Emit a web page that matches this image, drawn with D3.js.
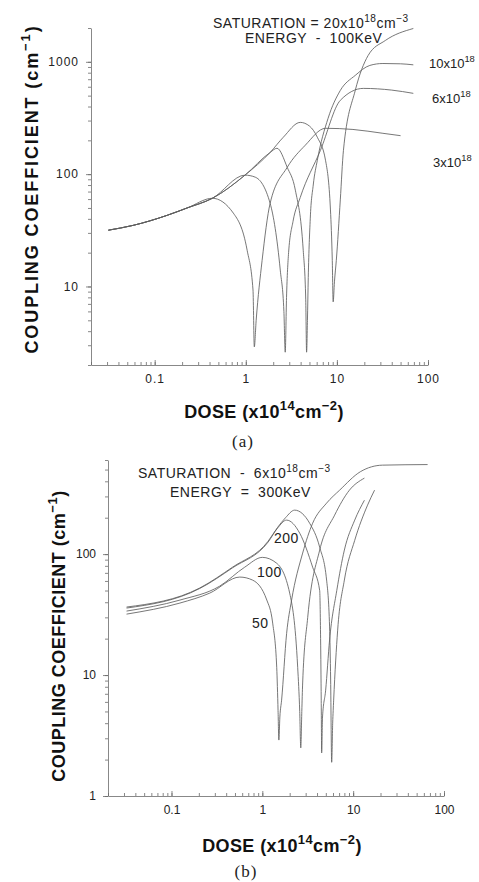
<!DOCTYPE html>
<meta charset="utf-8">
<head>
  <style>
    body { margin: 0; background: #fff; }
    svg { display: block; font-family: "Liberation Sans", Arial, Helvetica, sans-serif; }
    text { white-space: pre; }
    .curve { fill: none; stroke: #5e5e5e; stroke-width: 0.85px; }
    .axis path, .axis line { stroke: #6a6a6a; stroke-width: 0.8px; }
    .axis text { font-size: 12px; fill: #222; font-family: "Liberation Sans", Arial, sans-serif; }
    .axis-a text { letter-spacing: 1px; }
    .title { font-weight: bold; font-size: 18px; fill: #111; }
    .note { font-size: 14px; fill: #222; letter-spacing: 0.5px; }
    .side { font-size: 13px; fill: #222; }
    .cap { font-family: "Liberation Serif", "Times New Roman", serif; font-size: 17px; fill: #222; letter-spacing: 1px; }
  </style>
  <script src="https://cdn.jsdelivr.net/npm/d3@7"></script>
</head>
<body>
<script>
  // tick labels
  var xMajor = [0.1, 1, 10, 100]
    , xMajorLabels = ["0.1", "1", "10", "100"]
    , yMajorA = [10, 100, 1000]
    , yMajorB = [1, 10, 100];

  // (a) 100 keV, curves by saturation (x10^18 cm^-3)
  var doseA3  = [0.031, 0.058, 0.137, 0.227, 0.43, 0.73, 1.035, 1.2, 1.24, 1.3, 1.51, 1.85, 2.85, 4.5, 7.5, 15, 32, 50]
    , kA3     = [31.7, 35, 43, 50, 61, 45, 21, 9.3, 2.9, 5, 17, 55, 115, 181, 256, 250, 231, 220];
  var doseA6  = [0.031, 0.058, 0.137, 0.227, 0.43, 0.98, 1.27, 1.85, 2.39, 2.62, 2.71, 2.8, 2.95, 3.3, 3.96, 6.6, 10.9, 19.5, 40, 69]
    , kA6     = [31.7, 35, 43, 50, 61, 98, 94, 55, 14, 6, 2.6, 8, 20, 38, 62, 163, 454, 580, 560, 524];
  var doseA10 = [0.031, 0.058, 0.137, 0.227, 0.43, 0.98, 1.85, 2.2, 2.85, 3.5, 4.27, 4.55, 4.65, 4.75, 4.85, 5.1, 5.5, 6.1, 8.0, 10.9, 15.9, 23, 32, 50, 69]
    , kA10    = [31.7, 35, 43, 50, 61, 98, 156, 170, 115, 72, 21, 7.6, 2.6, 5, 12, 40, 80, 133, 314, 556, 757, 929, 966, 960, 940];
  var doseA20 = [0.031, 0.058, 0.137, 0.227, 0.43, 0.98, 1.85, 2.58, 3.96, 5.0, 6.1, 7.5, 8.5, 8.9, 9.1, 9.4, 9.85, 10.9, 11.8, 15.9, 22, 34, 69]
    , kA20    = [31.7, 35, 43, 50, 61, 98, 156, 213, 289, 268, 213, 133, 48, 17, 7.3, 11, 17, 59, 163, 556, 1137, 1548, 1980];

  // (b) 300 keV, saturation 6x10^18
  var doseB50  = [0.032, 0.124, 0.264, 0.565, 0.78, 1.12, 1.3, 1.44, 1.49, 1.52, 1.56, 1.63, 1.85, 2.1, 2.78, 3.58, 5.1, 7.1, 12, 21, 66]
    , kB50     = [31.9, 39.4, 47.6, 64.6, 61, 41.7, 26.9, 11.6, 5.1, 2.9, 4.5, 6.2, 22, 41.7, 102, 180, 264, 338, 480, 544, 550];
  var doseB100 = [0.032, 0.124, 0.34, 0.64, 1.0, 1.44, 2.0, 2.45, 2.58, 2.65, 2.72, 2.78, 3.16, 4.28, 6.25, 9.1, 13.3]
    , kB100    = [33.8, 41.7, 54.4, 78, 94, 84, 47.6, 11.6, 5, 2.5, 5, 8.6, 30, 108, 210, 338, 425];
  var doseB200 = [0.032, 0.205, 0.47, 1.16, 1.47, 1.85, 2.58, 3.58, 4.28, 4.38, 4.45, 4.5, 4.6, 4.98, 5.5, 6.6, 8.0, 10.4, 13.3]
    , kB200    = [35.8, 52, 77, 126, 164, 191, 149, 78, 50, 20, 6.2, 2.27, 4.5, 7.5, 19.5, 50, 108, 191, 279];
  var doseBtop = [0.032, 0.205, 0.47, 1.16, 1.47, 1.8, 2.27, 3.32, 4.28, 5.1, 5.5, 5.65, 5.8, 5.95, 6.1, 6.75, 8.0, 10.4, 14.4, 17.2]
    , kBtop    = [36.5, 52.5, 78, 128, 166, 200, 231, 180, 114, 61, 25, 9.1, 1.9, 4, 6.2, 23.5, 61, 130, 254, 338];

  var width = 479, height = 882;
  var svg = d3.select("body").append("svg").attr("width", width).attr("height", height);

  var xa = d3.scaleLog().domain([0.02, 100]).range([91, 428])
    , ya = d3.scaleLog().domain([2, 2000]).range([365, 28])
    , xb = d3.scaleLog().domain([0.02, 100]).range([108, 444])
    , yb = d3.scaleLog().domain([1, 600]).range([796, 460]);

  drawAxes(svg.append("g").attr("class", "axis-a"), xa, ya, yMajorA);
  drawAxes(svg.append("g").attr("class", "axis-b"), xb, yb, yMajorB);

  drawCurves(xa, ya, [[doseA3, kA3], [doseA6, kA6], [doseA10, kA10], [doseA20, kA20]]);
  drawCurves(xb, yb, [[doseB50, kB50], [doseB100, kB100], [doseB200, kB200], [doseBtop, kBtop]]);

  // titles
  yTitle(189, 38, 1.9);
  yTitle(636, 65, 0.5);
  xTitle(264, 418);
  xTitle(282, 852);

  rich(svg.append("text").attr("class", "note").attr("x", 213).attr("y", 28),
       [["SATURATION = 20x10", 0], ["18", 1], ["cm", 0], ["\u22123", 1]], 14);
  rich(svg.append("text").attr("class", "note").attr("x", 245).attr("y", 43),
       [["ENERGY  -  100KeV", 0]], 14);
  rich(svg.append("text").attr("class", "side").attr("x", 429).attr("y", 68), [["10x10", 0], ["18", 1]], 13);
  rich(svg.append("text").attr("class", "side").attr("x", 432).attr("y", 103), [["6x10", 0], ["18", 1]], 13);
  rich(svg.append("text").attr("class", "side").attr("x", 433).attr("y", 167), [["3x10", 0], ["18", 1]], 13);

  rich(svg.append("text").attr("class", "note").attr("x", 138).attr("y", 478),
       [["SATURATION  -  6x10", 0], ["18", 1], ["cm", 0], ["\u22123", 1]], 14);
  rich(svg.append("text").attr("class", "note").attr("x", 170).attr("y", 497),
       [["ENERGY  =  300KeV", 0]], 14);
  svg.append("text").attr("class", "note").attr("x", 274).attr("y", 543).text("200");
  svg.append("text").attr("class", "note").attr("x", 257).attr("y", 577).text("100");
  svg.append("text").attr("class", "note").attr("x", 252).attr("y", 628).text("50");

  svg.append("text").attr("class", "cap").attr("x", 243).attr("y", 447).attr("text-anchor", "middle").text("(a)");
  svg.append("text").attr("class", "cap").attr("x", 246).attr("y", 877).attr("text-anchor", "middle").text("(b)");

  function drawAxes(g, x, y, yMajor) {
    var y0 = y.range()[0], x0 = x.range()[0];
    // minor ticks
    g.append("g").attr("class", "axis").attr("transform", "translate(0," + y0 + ")")
      .call(d3.axisBottom(x).tickValues(x.ticks()).tickSize(-3).tickSizeOuter(0).tickFormat(""));
    g.append("g").attr("class", "axis").attr("transform", "translate(" + x0 + ",0)")
      .call(d3.axisLeft(y).tickValues(y.ticks()).tickSize(3).tickSizeOuter(0).tickFormat(""));
    // major ticks + labels
    g.append("g").attr("class", "axis").attr("transform", "translate(0," + y0 + ")")
      .call(d3.axisBottom(x).tickValues(xMajor).tickSize(-5).tickPadding(9)
        .tickFormat(function(d, i) { return xMajorLabels[i]; }))
      .call(function(s) { s.select(".domain").remove(); });
    g.append("g").attr("class", "axis").attr("transform", "translate(" + x0 + ",0)")
      .call(d3.axisLeft(y).tickValues(yMajor).tickSize(5).tickPadding(7)
        .tickFormat(function(d) { return String(d); }))
      .call(function(s) { s.select(".domain").remove(); });
  }

  function drawCurves(x, y, series) {
    var line = d3.line()
      .x(function(d) { return x(d[0]); })
      .y(function(d) { return y(d[1]); })
      .curve(d3.curveMonotoneX);
    svg.append("g").selectAll("path")
      .data(series.map(function(s) { return d3.zip(s[0], s[1]); }))
      .enter().append("path")
      .attr("class", "curve")
      .attr("d", line);
  }

  // parts: [text, isSuperscript]
  function rich(t, parts, fs) {
    var shift = Math.round(fs * 0.45), up = false;
    parts.forEach(function(p) {
      var ts = t.append("tspan").text(p[0]);
      if (p[1]) { ts.attr("font-size", fs * 0.72).attr("dy", -shift); up = true; }
      else if (up) { ts.attr("dy", shift); up = false; }
    });
    return t;
  }

  function yTitle(cy, base, ls) {
    var t = svg.append("text").attr("class", "title")
      .attr("transform", "translate(" + base + "," + cy + ")rotate(-90)")
      .attr("text-anchor", "middle")
      .style("letter-spacing", ls + "px");
    rich(t, [["COUPLING COEFFICIENT (cm", 0], ["\u22121", 1], [")", 0]], 18);
  }

  function xTitle(cx, base) {
    var t = svg.append("text").attr("class", "title")
      .attr("x", cx).attr("y", base)
      .attr("text-anchor", "middle")
      .style("letter-spacing", "0.4px");
    rich(t, [["DOSE (x10", 0], ["14", 1], ["cm", 0], ["\u22122", 1], [")", 0]], 18);
  }
</script>
</body>
